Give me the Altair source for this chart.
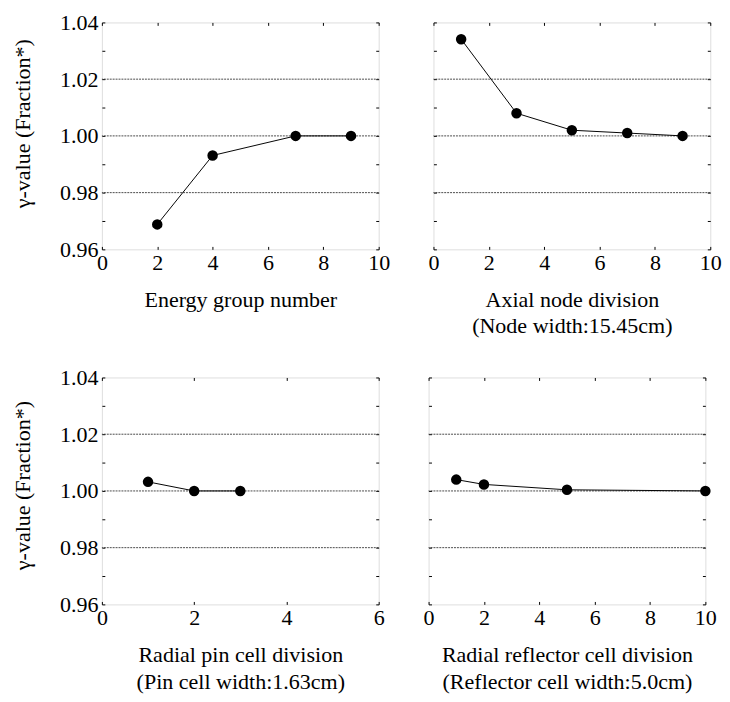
import altair as alt
import pandas as pd

FONT = "Liberation Serif"
FS = 22.5

# Panel data
energy_x = [2, 4, 7, 9]
energy_y = [0.9688, 0.9931, 1.0000, 1.0000]

axial_x = [1, 3, 5, 7, 9]
axial_y = [1.0341, 1.0080, 1.0020, 1.0010, 1.0000]

pin_x = [1, 2, 3]
pin_y = [1.0032, 1.0000, 1.0000]

refl_x = [1, 2, 5, 10]
refl_y = [1.0040, 1.0023, 1.0004, 1.0000]

grid_levels = [0.98, 1.00, 1.02]
y_ticks = [0.96, 0.97, 0.98, 0.99, 1.00, 1.01, 1.02, 1.03, 1.04]

Y_TITLE = "γ-value (Fraction*)"

W, H = 283, 232
TICK = 3


def panel(xs, ys, xmax, xtitle, show_ylab, title_y=105):
    df = pd.DataFrame({"x": xs, "y": ys})
    xscale = alt.Scale(domain=[0, xmax], nice=False, zero=False)
    yscale = alt.Scale(domain=[0.96, 1.04], nice=False, zero=False)
    xvals = list(range(0, xmax + 1, 2))

    grid = alt.Chart(pd.DataFrame({"g": grid_levels})).mark_rule(
        color="#333", strokeWidth=0.9, strokeDash=[2, 1]
    ).encode(y=alt.Y("g:Q", scale=yscale, axis=None))

    x_bottom = alt.Axis(
        orient="bottom", values=xvals, format="d", tickSize=TICK, offset=-TICK,
        domain=False, tickColor="#000", labelPadding=3, labelFlush=False,
        labelOverlap=False, labelFont=FONT, labelFontSize=FS, labelColor="#000",
        title=xtitle, titleFont=FONT, titleFontSize=FS, titleFontWeight="normal",
        titleColor="#000", titlePadding=15, titleLineHeight=27, grid=False,
    )
    if show_ylab:
        y_left = alt.Axis(
            orient="left", values=y_ticks, tickSize=TICK, offset=-TICK,
            domain=False, tickColor="#000", labelPadding=4,
            labelExpr="round(datum.value*100) % 2 == 0 ? format(datum.value, '.2f') : ''",
            labelOverlap=False, labelFlush=False, labelFont=FONT, labelFontSize=FS,
            labelColor="#000", title=Y_TITLE, titleFont=FONT, titleFontSize=FS,
            titleFontWeight="normal", titleColor="#000", titlePadding=26,
            titleY=title_y, grid=False,
        )
    else:
        y_left = alt.Axis(
            orient="left", values=y_ticks, tickSize=TICK, offset=-TICK,
            domain=False, tickColor="#000", labels=False, title=None, grid=False,
        )

    line = alt.Chart(df).mark_line(color="#000", strokeWidth=1).encode(
        x=alt.X("x:Q", scale=xscale, axis=x_bottom),
        y=alt.Y("y:Q", scale=yscale, axis=y_left),
    )
    pts = alt.Chart(df).mark_circle(size=115, color="#000", opacity=1).encode(
        x=alt.X("x:Q", scale=xscale, axis=alt.Axis(
            orient="top", values=xvals, tickSize=TICK, offset=-TICK, domain=False,
            tickColor="#000", labels=False, title=None, grid=False)),
        y=alt.Y("y:Q", scale=yscale, axis=alt.Axis(
            orient="right", values=y_ticks, tickSize=TICK, offset=-TICK, domain=False,
            tickColor="#000", labels=False, title=None, grid=False)),
    )
    return alt.layer(grid, line, pts).resolve_axis(x="independent", y="independent").properties(
        width=W, height=H
    )


p1 = panel(energy_x, energy_y, 10, "Energy group number", True, title_y=103)
p2 = panel(axial_x, axial_y, 10, ["Axial node division", "(Node width:15.45cm)"], False)
p3 = panel(pin_x, pin_y, 6, ["Radial pin cell division", "(Pin cell width:1.63cm)"], True, title_y=110)
p4 = panel(refl_x, refl_y, 10, ["Radial reflector cell division", "(Reflector cell width:5.0cm)"], False)

row1 = alt.hconcat(p1, p2, spacing=37)
row2 = alt.hconcat(p3, p4, spacing=37)
chart = alt.vconcat(row1, row2, spacing=28).properties(
    padding={"left": 3, "top": -5, "right": 0, "bottom": 0}
).configure_view(stroke="#222", strokeWidth=1.2).configure(background="white")

chart.save("out.html", embed_options={"renderer": "svg", "actions": False})
